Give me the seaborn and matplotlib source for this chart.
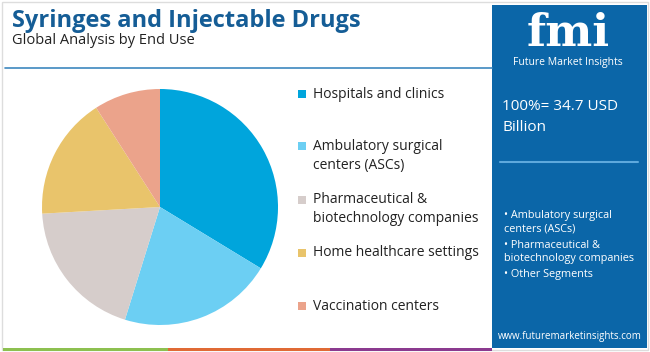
import matplotlib
matplotlib.use("Agg")
import matplotlib.pyplot as plt
import seaborn as sns
from matplotlib.patches import Rectangle

sns.set_theme(style="white")
plt.rcParams['font.family'] = ['Open Sans', 'DejaVu Sans']

categories = ["Hospitals and clinics", "Ambulatory surgical\ncenters (ASCs)",
              "Pharmaceutical &\nbiotechnology companies", "Home healthcare settings",
              "Vaccination centers"]
shares = [33.7, 21.1, 19.3, 16.8, 9.1]
colors = ["#00a5dc", "#6ccff3", "#d6cdcb", "#e9c46b", "#eba38b"]
title = "Syringes and Injectable Drugs"
subtitle = "Global Analysis by End Use"
total_text = "100%= 34.7 USD\nBillion"
bullets = ["• Ambulatory surgical\ncenters (ASCs)", "• Pharmaceutical &\nbiotechnology companies", "• Other Segments"]

W, H = 650, 352
fig = plt.figure(figsize=(W / 100, H / 100), dpi=100)
fig.patch.set_facecolor("white")

def fx(x): return x / W
def fy(y): return 1 - y / H

# frame
fig.add_artist(Rectangle((fx(2), fy(350)), fx(646), 348 / H, transform=fig.transFigure,
                         fill=False, edgecolor="#dddddd", lw=1))

# title
fig.text(fx(12), fy(21), title, fontsize=17, fontweight="bold", color="#155d96",
         va="center", ha="left")
fig.text(fx(12), fy(41), subtitle, fontsize=10.5, color="#222222", va="center", ha="left")
fig.add_artist(plt.Line2D([fx(5), fx(492)], [fy(68), fy(68)], transform=fig.transFigure,
                          color="#3d87bf", lw=1.2))

# right panel
fig.add_artist(Rectangle((fx(492), fy(348)), fx(155), 343 / H, transform=fig.transFigure,
                         color="#0b66a8", lw=0))
fig.text(fx(568), fy(46), "fmi", fontsize=32, fontweight="bold", color="white",
         ha="center", va="baseline", family=["DejaVu Serif"])
fig.text(fx(568), fy(63), "Future Market Insights", fontsize=7.5, color="white",
         ha="center", va="center")
fig.text(fx(502), fy(117), total_text, fontsize=11, color="white", ha="left", va="center",
         linespacing=1.5)
fig.add_artist(plt.Line2D([fx(500), fx(638)], [fy(162), fy(162)], transform=fig.transFigure,
                          color="#5ea9dd", lw=1.5))
by = [222, 252, 274]
for b, yy in zip(bullets, by):
    fig.text(fx(504), fy(yy), b, fontsize=7.8, color="white", ha="left", va="center",
             linespacing=1.3)
fig.text(fx(570), fy(337), "www.futuremarketinsights.com", fontsize=7, color="white",
         ha="center", va="center")

# bottom stripes
for x0, x1, c in [(3, 168, "#8dc050"), (168, 330, "#e06a35"), (330, 492, "#8b3a8f")]:
    fig.add_artist(Rectangle((fx(x0), fy(351)), fx(x1 - x0), 3 / H, transform=fig.transFigure,
                             color=c, lw=0))

# pie
ax = fig.add_axes([fx(42), fy(325), fx(236), 236 / H])
ax.pie(shares, colors=colors, startangle=90, counterclock=False,
       wedgeprops=dict(linewidth=0))
ax.set_xlim(-1, 1)
ax.set_ylim(-1, 1)
ax.set_aspect("equal")
ax.axis("off")

# legend
ly = [94, 156, 209, 253, 306]
for lab, c, yy in zip(categories, colors, ly):
    nlines = lab.count("\n") + 1
    top = yy - (nlines - 1) * 9.5
    fig.add_artist(Rectangle((fx(298), fy(top + 4)), fx(8), 8 / H, transform=fig.transFigure,
                             color=c, lw=0))
    fig.text(fx(313), fy(yy), lab, fontsize=10, color="#222222", ha="left", va="center",
             linespacing=1.45)

fig.savefig("out.png", dpi=100, facecolor="white")
